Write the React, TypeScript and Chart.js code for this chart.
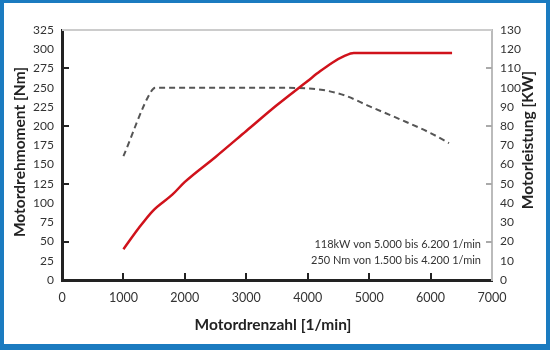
import React, { useEffect, useRef } from "react";
import { Chart, registerables } from "chart.js";

Chart.register(...registerables);

// Torque curve (left axis, Nm)
const torqueRpm = [1000, 1450, 1520, 2000, 3000, 3500, 4000, 4250, 4600, 5000, 5500, 6000, 6300];
const torqueNm = [161, 245, 250, 250, 250, 250, 249, 247, 240, 226, 209, 191, 178];

// Power curve (right axis, kW)
const powerRpm = [1000, 1250, 1480, 1800, 2000, 2500, 3000, 3500, 4000, 4200, 4400, 4600, 4750, 5000, 6000, 6350];
const powerKw = [16, 27, 36, 44.5, 51, 64, 77.5, 91, 103.5, 108.5, 113, 116.5, 118, 118, 118, 118];

const xTicks = [0, 1000, 2000, 3000, 4000, 5000, 6000, 7000];
const leftMarkValues = [50, 125, 200, 275];
const rightMarkValues = [20, 50, 80, 110];

const xTitle = "Motordrenzahl [1/min]";
const leftTitle = "Motordrehmoment [Nm]";
const rightTitle = "Motorleistung [KW]";
const noteLines = ["118kW von 5.000 bis 6.200 1/min", "250 Nm von 1.500 bis 4.200 1/min"];

const FONT = "Lato, 'Open Sans', sans-serif";

export default function App() {
  const ref = useRef<HTMLCanvasElement | null>(null);

  useEffect(() => {
    if (!ref.current) return;
    const decor = {
      id: "decor",
      beforeDraw(chart: any) {
        const ctx = chart.ctx;
        ctx.save();
        ctx.fillStyle = "#ffffff";
        ctx.fillRect(0, 0, chart.width, chart.height);
        ctx.restore();
      },
      afterDraw(chart: any) {
        const ctx = chart.ctx;
        const a = chart.chartArea;
        const sx = chart.scales.x;
        const sy = chart.scales.y;
        const sy1 = chart.scales.y1;
        ctx.save();
        // top border
        ctx.strokeStyle = "#cccccc";
        ctx.lineWidth = 2;
        ctx.beginPath();
        ctx.moveTo(a.left, a.top);
        ctx.lineTo(a.right, a.top);
        ctx.stroke();
        // left marks
        ctx.strokeStyle = "#222222";
        ctx.lineWidth = 2;
        leftMarkValues.forEach((v) => {
          const y = Math.round(sy.getPixelForValue(v));
          ctx.beginPath();
          ctx.moveTo(a.left, y);
          ctx.lineTo(a.left + 7, y);
          ctx.stroke();
        });
        // right marks
        ctx.strokeStyle = "#aaaaaa";
        rightMarkValues.forEach((v) => {
          const y = Math.round(sy1.getPixelForValue(v));
          ctx.beginPath();
          ctx.moveTo(a.right, y);
          ctx.lineTo(a.right - 6, y);
          ctx.stroke();
        });
        // bottom marks
        ctx.strokeStyle = "#222222";
        xTicks.slice(1, -1).forEach((v) => {
          const x = Math.round(sx.getPixelForValue(v));
          ctx.beginPath();
          ctx.moveTo(x, a.bottom);
          ctx.lineTo(x, a.bottom - 7);
          ctx.stroke();
        });
        // notes
        ctx.fillStyle = "#333333";
        ctx.font = `11px ${FONT}`;
        ctx.textAlign = "right";
        ctx.textBaseline = "middle";
        ctx.fillText(noteLines[0], 481, 244);
        ctx.fillText(noteLines[1], 481, 260);
        // titles
        ctx.fillStyle = "#222222";
        ctx.font = `bold 15.5px ${FONT}`;
        ctx.textAlign = "center";
        ctx.fillText(xTitle, 273, 325);
        ctx.save();
        ctx.translate(20, 152);
        ctx.rotate(-Math.PI / 2);
        ctx.fillText(leftTitle, 0, 0);
        ctx.restore();
        ctx.save();
        ctx.translate(528, 140);
        ctx.rotate(-Math.PI / 2);
        ctx.fillText(rightTitle, 0, 0);
        ctx.restore();
        // blue frame
        ctx.fillStyle = "#1b7bc0";
        ctx.fillRect(0, 0, chart.width, 3);
        ctx.fillRect(0, 0, 4, chart.height);
        ctx.fillRect(chart.width - 4, 0, 4, chart.height);
        ctx.fillRect(0, chart.height - 6, chart.width, 6);
        ctx.restore();
      },
    };

    const chart = new Chart(ref.current, {
      type: "scatter",
      data: {
        datasets: [
          {
            label: "Leistung",
            data: powerRpm.map((x, i) => ({ x, y: powerKw[i] })),
            yAxisID: "y1",
            showLine: true,
            borderColor: "#d0121b",
            borderWidth: 2.5,
            pointRadius: 0,
            cubicInterpolationMode: "monotone",
          },
          {
            label: "Drehmoment",
            data: torqueRpm.map((x, i) => ({ x, y: torqueNm[i] })),
            yAxisID: "y",
            showLine: true,
            borderColor: "#555555",
            borderWidth: 2,
            borderDash: [6, 4],
            pointRadius: 0,
            cubicInterpolationMode: "monotone",
          },
        ],
      },
      options: {
        animation: false,
        responsive: true,
        maintainAspectRatio: false,
        layout: { padding: { top: 30, left: 0, right: 0, bottom: 0 } },
        plugins: { legend: { display: false }, tooltip: { enabled: false } },
        scales: {
          x: {
            type: "linear",
            min: 0,
            max: 7000,
            afterFit: (s: any) => {
              s.height = 70;
            },
            afterBuildTicks: (s: any) => {
              s.ticks = xTicks.map((v) => ({ value: v }));
            },
            grid: { display: false, drawTicks: false },
            border: { display: true, color: "#222222", width: 3 },
            ticks: {
              padding: 10,
              color: "#333333",
              font: { family: FONT, size: 12.5 },
              callback: (v: any) => String(v),
              maxRotation: 0,
            },
          },
          y: {
            type: "linear",
            position: "left",
            min: 0,
            max: 325,
            afterFit: (s: any) => {
              s.width = 62;
            },
            grid: { display: false, drawTicks: false },
            border: { display: true, color: "#222222", width: 3 },
            ticks: {
              stepSize: 25,
              padding: 8,
              color: "#333333",
              font: { family: FONT, size: 12 },
            },
          },
          y1: {
            type: "linear",
            position: "right",
            min: 0,
            max: 130,
            afterFit: (s: any) => {
              s.width = 58;
            },
            grid: { display: false, drawTicks: false },
            border: { display: true, color: "#bbbbbb", width: 2 },
            ticks: {
              stepSize: 10,
              padding: 8,
              color: "#333333",
              font: { family: FONT, size: 12 },
            },
          },
        },
      },
      plugins: [decor],
    } as any);
    return () => chart.destroy();
  }, []);

  return (
    <div style={{ position: "fixed", left: 0, top: 0, width: 550, height: 350 }}>
      <canvas ref={ref} width={550} height={350} />
    </div>
  );
}
